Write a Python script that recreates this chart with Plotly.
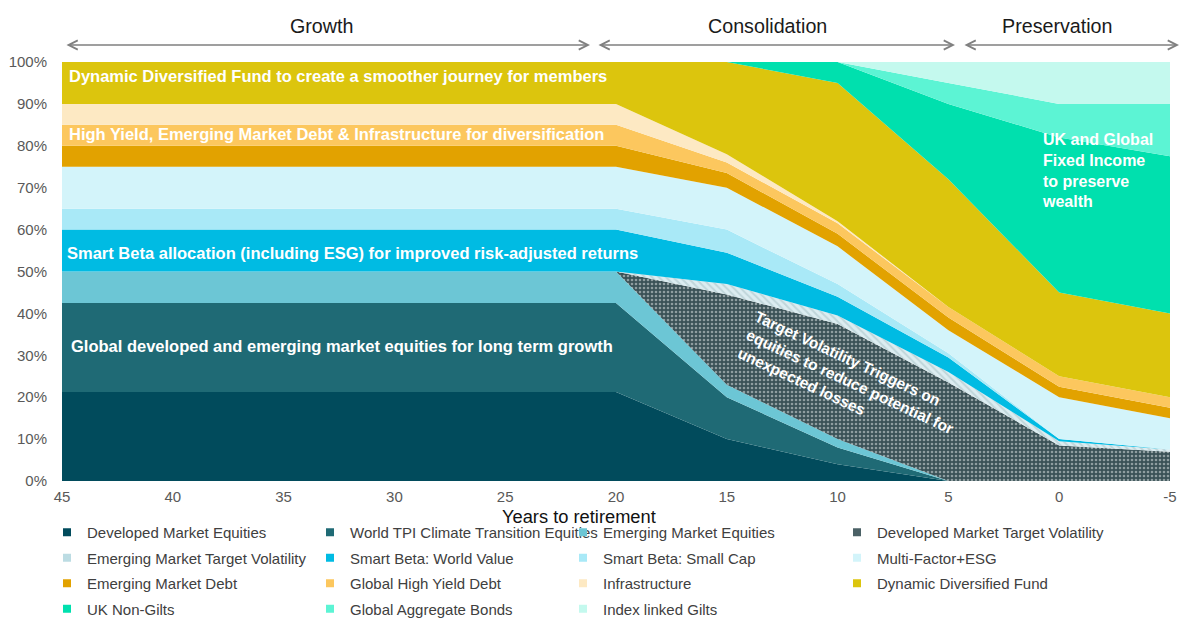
import plotly.graph_objects as go

# ---------------- data (percent of portfolio) ----------------
years = [45, 20, 15, 10, 5, 0, -5]

dev_mkt_equities   = [21.25, 21.25, 10.0, 4.0, 0.0, 0.0, 0.0]
world_tpi_equities = [21.25, 21.25, 10.0, 4.0, 0.0, 0.0, 0.0]
em_mkt_equities    = [7.5, 7.5, 3.0, 2.0, 0.0, 0.0, 0.0]
dev_target_vol     = [0.0, 0.0, 21.5, 27.5, 23.5, 8.5, 7.0]
em_target_vol      = [0.0, 0.0, 2.5, 2.0, 2.5, 1.0, 0.5]
sb_world_value     = [10.0, 10.0, 7.5, 4.5, 3.5, 0.5, 0.0]
sb_small_cap       = [5.0, 5.0, 5.5, 3.0, 1.0, 0.0, 0.0]
multi_factor_esg   = [10.0, 10.0, 10.0, 9.0, 5.5, 10.0, 7.5]
em_debt            = [5.0, 5.0, 3.5, 3.0, 3.0, 2.5, 2.5]
global_high_yield  = [5.0, 5.0, 2.5, 2.5, 2.5, 2.5, 2.5]
infrastructure     = [5.0, 5.0, 2.0, 0.5, 0.0, 0.0, 0.0]
dynamic_div_fund   = [10.0, 10.0, 22.0, 33.0, 30.5, 20.0, 20.0]
uk_non_gilts       = [0.0, 0.0, 0.0, 5.0, 18.0, 37.0, 37.5]
global_agg_bonds   = [0.0, 0.0, 0.0, 0.0, 5.0, 8.0, 12.5]
index_linked_gilts = [0.0, 0.0, 0.0, 0.0, 5.0, 10.0, 10.0]

series_names = [
    "Developed Market Equities", "World TPI Climate Transition Equities",
    "Emerging Market Equities", "Developed Market Target Volatility",
    "Emerging Market Target Volatility", "Smart Beta: World Value",
    "Smart Beta: Small Cap", "Multi-Factor+ESG",
    "Emerging Market Debt", "Global High Yield Debt",
    "Infrastructure", "Dynamic Diversified Fund",
    "UK Non-Gilts", "Global Aggregate Bonds", "Index linked Gilts",
]
series_values = [
    dev_mkt_equities, world_tpi_equities, em_mkt_equities, dev_target_vol,
    em_target_vol, sb_world_value, sb_small_cap, multi_factor_esg,
    em_debt, global_high_yield, infrastructure, dynamic_div_fund,
    uk_non_gilts, global_agg_bonds, index_linked_gilts,
]

x_ticks = [45, 40, 35, 30, 25, 20, 15, 10, 5, 0, -5]
y_ticks = [0, 10, 20, 30, 40, 50, 60, 70, 80, 90, 100]

# ---------------- styles ----------------
colors = [
    "#014b5c", "#1f6a75", "#6cc6d5", "#3e565b",
    "#d6ecf0", "#00bbe3", "#a9e9f7", "#d3f4fa",
    "#e2a200", "#fcc75e", "#fde9c3", "#dcc50d",
    "#00e0ae", "#5cf4d4", "#c4f9ee",
]
patterns = {
    3: dict(shape=".", bgcolor="#3a5156", fgcolor="#e3eaea", size=4, solidity=0.33),
    4: dict(shape="\\", bgcolor="#dcedf1", fgcolor="#a3bfc4", size=5, solidity=0.4),
}
legend_colors = list(colors)
legend_colors[3] = "#4b6166"
legend_colors[4] = "#bcdce3"

FONT = "Arial, Liberation Sans, sans-serif"

fig = go.Figure()

for i, (name, vals) in enumerate(zip(series_names, series_values)):
    kw = {}
    if i in patterns:
        kw["fillpattern"] = patterns[i]
    fig.add_trace(go.Scatter(
        x=years, y=vals, name=name, mode="lines", stackgroup="one",
        line=dict(width=0, color=colors[i]), fillcolor=colors[i],
        showlegend=False, hoverinfo="skip", **kw))

legend_ids = ["legend", "legend2", "legend3", "legend4"]
for i, name in enumerate(series_names):
    fig.add_trace(go.Scatter(
        x=[None], y=[None], mode="markers", name=name,
        marker=dict(symbol="square", size=8, color=legend_colors[i]),
        legend=legend_ids[i % 4], legendgroup=name, showlegend=True,
        hoverinfo="skip"))

# ---------------- layout ----------------
W, H = 1181, 619
ml, mr, mt, mb = 62, 11, 62, 138
pw, ph = W - ml - mr, H - mt - mb


def px_x(px):
    return (px - ml) / pw


def px_y(py):
    return (H - mb - py) / ph


legend_common = dict(
    orientation="v", bgcolor="rgba(0,0,0,0)", borderwidth=0,
    font=dict(family=FONT, size=15, color="#404040"),
    tracegroupgap=3, itemwidth=30, yanchor="top", xanchor="left",
    y=px_y(516), itemclick=False, itemdoubleclick=False,
)
legend_x = [px_x(47), px_x(310), px_x(563), px_x(837)]

annotations = []
# phase labels and arrows
for label, cx, x0, x1 in [("Growth", 321, 65, 590),
                          ("Consolidation", 767, 597, 955),
                          ("Preservation", 1057, 963, 1179)]:
    annotations.append(dict(
        xref="paper", yref="paper", x=px_x(cx), y=px_y(26), text=label,
        showarrow=False, font=dict(family=FONT, size=19.7, color="#1a1a1a"),
        xanchor="center", yanchor="middle"))
    annotations.append(dict(
        xref="paper", yref="paper", x=px_x(x1), y=px_y(45), text="",
        showarrow=True, axref="pixel", ayref="pixel", ax=-(x1 - x0), ay=0,
        arrowhead=5, startarrowhead=5, arrowside="end+start",
        arrowsize=1.3, startarrowsize=1.3, arrowwidth=1.4,
        arrowcolor="#808080", standoff=0, startstandoff=0))

# x axis title
annotations.append(dict(
    xref="paper", yref="paper", x=px_x(579), y=px_y(516),
    text="Years to retirement", showarrow=False,
    font=dict(family=FONT, size=18.3, color="#111111"),
    xanchor="center", yanchor="middle"))

white = dict(family=FONT, size=16.5, color="#ffffff")
in_plot = [
    ("<b>Dynamic Diversified Fund to create a smoother journey for members</b>", 67, 76),
    ("<b>High Yield, Emerging Market Debt &amp; Infrastructure for diversification</b>", 67, 134),
    ("<b>Smart Beta allocation (including ESG) for improved risk-adjusted returns</b>", 65, 253),
    ("<b>Global developed and emerging market equities for long term growth</b>", 69, 346),
]
for txt, lx, cy in in_plot:
    annotations.append(dict(
        xref="paper", yref="paper", x=px_x(lx), y=px_y(cy), text=txt,
        showarrow=False, font=white, xanchor="left", yanchor="middle"))

annotations.append(dict(
    xref="paper", yref="paper", x=px_x(850), y=px_y(381),
    text="<b>Target Volatility Triggers on<br>equities to reduce potential for<br>unexpected losses</b>",
    showarrow=False, font=dict(family=FONT, size=15.5, color="#ffffff"),
    textangle=25, align="left", xanchor="center", yanchor="middle"))

annotations.append(dict(
    xref="paper", yref="paper", x=px_x(1040), y=px_y(170),
    text="<b>UK and Global<br>Fixed Income<br>to preserve<br>wealth</b>",
    showarrow=False, font=dict(family=FONT, size=16, color="#ffffff"),
    align="left", xanchor="left", yanchor="middle"))

layout = dict(
    width=W, height=H,
    margin=dict(l=ml, r=mr, t=mt, b=mb, autoexpand=False),
    paper_bgcolor="#ffffff", plot_bgcolor="#ffffff",
    font=dict(family=FONT, color="#595959", size=15),
    xaxis=dict(range=[45, -5], tickvals=x_ticks, ticktext=[str(v) for v in x_ticks],
               showgrid=False, zeroline=False, showline=False, ticks="",
               tickfont=dict(family=FONT, size=15, color="#595959"),
               ticklabelstandoff=5),
    yaxis=dict(range=[0, 100], tickvals=y_ticks, ticktext=[f"{v}%" for v in y_ticks],
               showgrid=False, zeroline=False, showline=False, ticks="",
               tickfont=dict(family=FONT, size=15, color="#595959"),
               ticklabelstandoff=14),
    annotations=annotations,
    hovermode=False,
)
for lid, lx in zip(legend_ids, legend_x):
    layout[lid] = dict(x=lx, **legend_common)

fig.update_layout(**layout)

fig.write_html("out.html", config={"displayModeBar": False},
               post_script="document.body.style.margin='0';")
